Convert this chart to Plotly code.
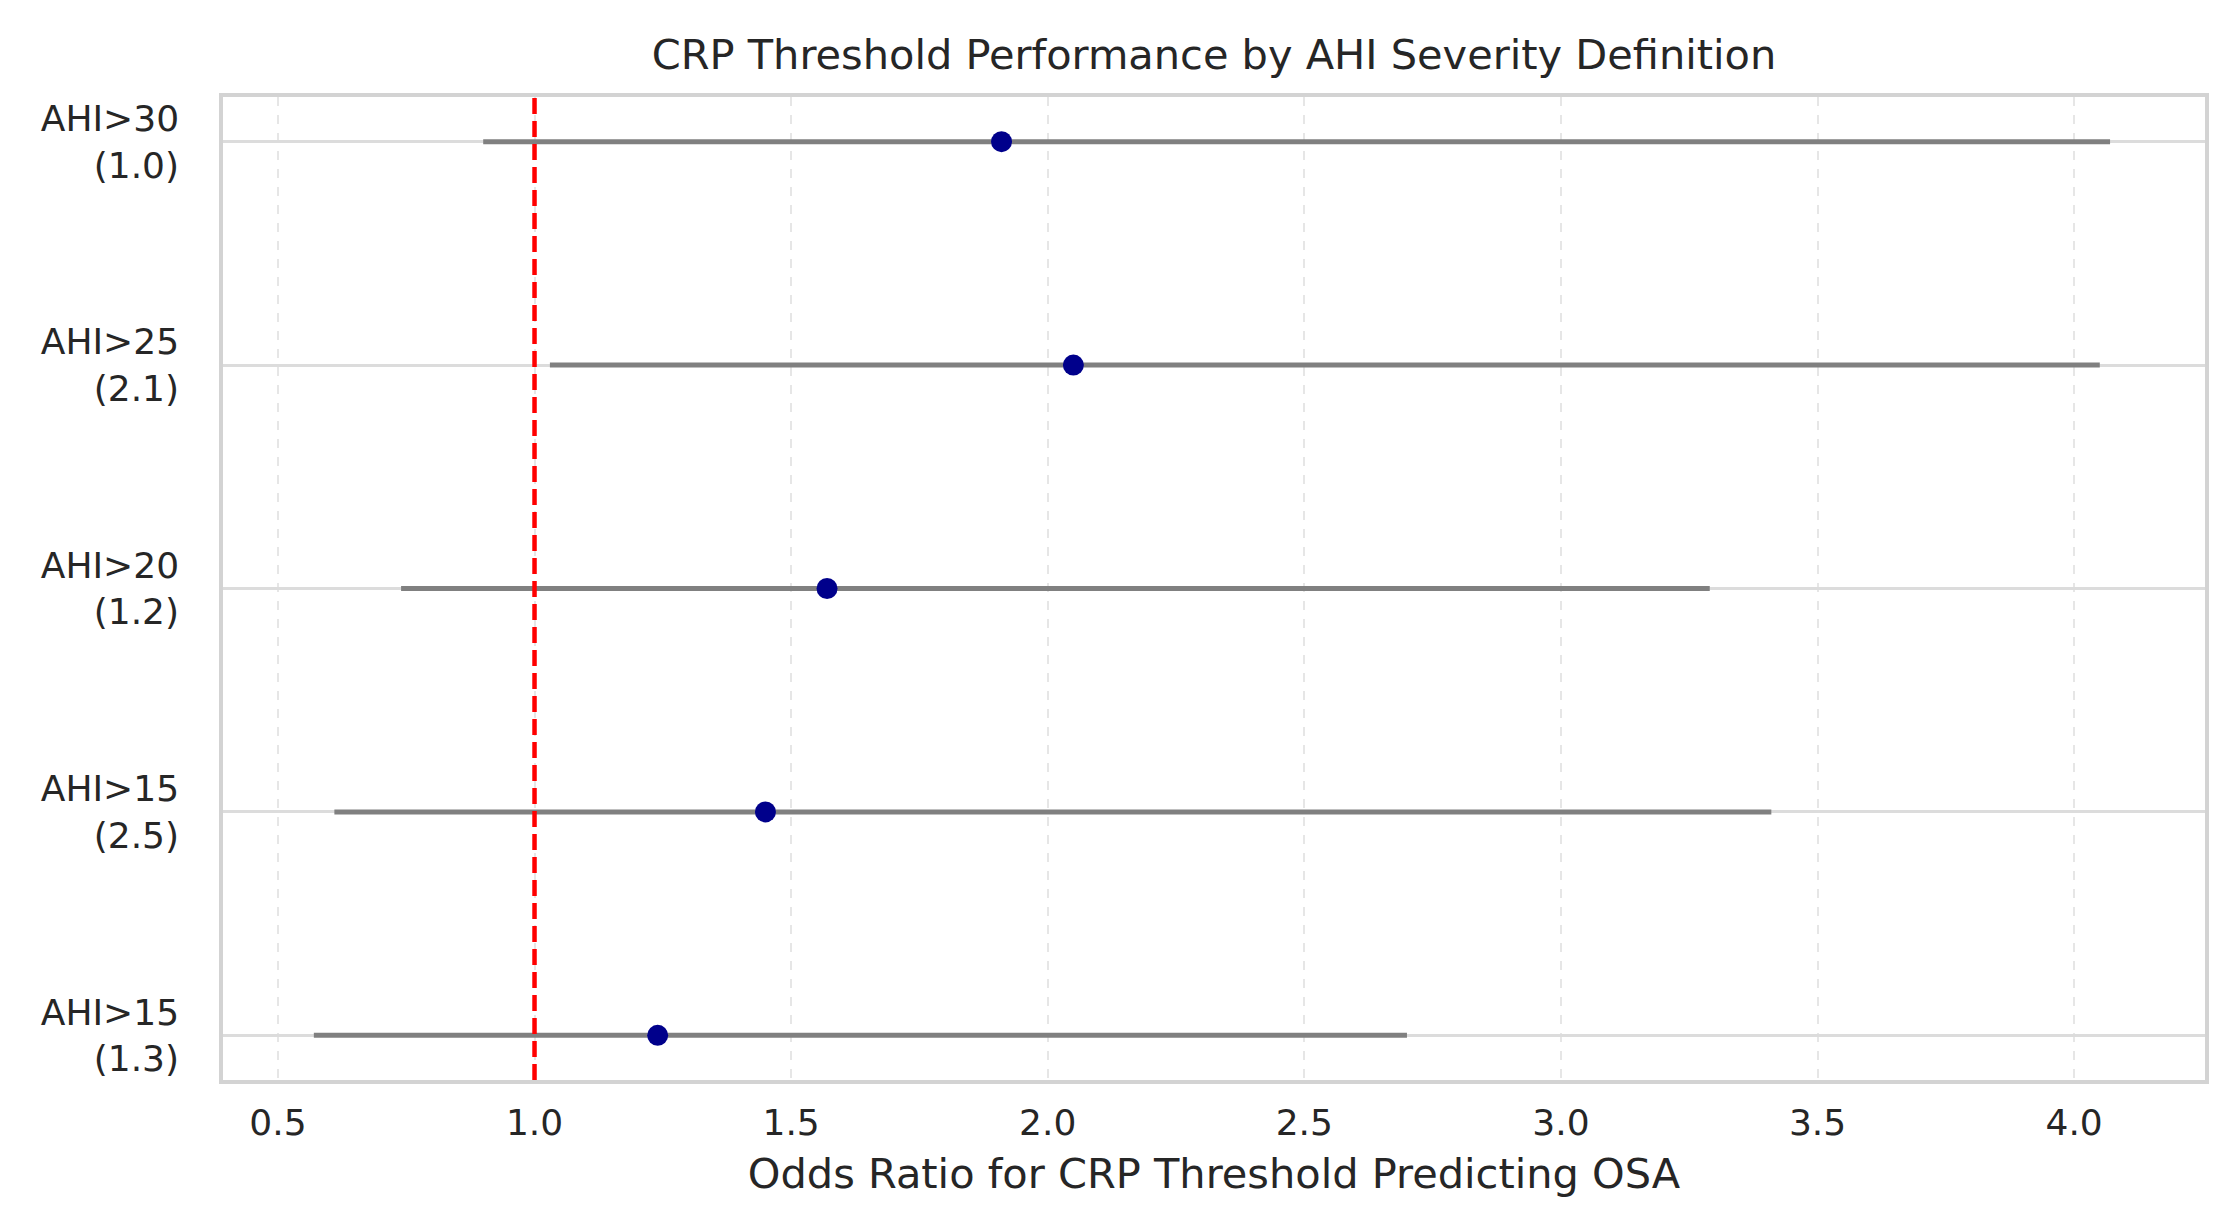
import plotly.graph_objects as go

labels = ["AHI>30<br>(1.0)", "AHI>25<br>(2.1)", "AHI>20<br>(1.2)", "AHI>15<br>(2.5)", "AHI>15<br>(1.3)"]
odds_ratio = [1.91, 2.05, 1.57, 1.45, 1.24]
ci_low = [0.90, 1.03, 0.74, 0.61, 0.57]
ci_high = [4.07, 4.05, 3.29, 3.41, 2.70]
x_ticks = [0.5, 1.0, 1.5, 2.0, 2.5, 3.0, 3.5, 4.0]
ref_value = 1.0

ypos = list(range(len(labels)))
err_plus = [h - o for h, o in zip(ci_high, odds_ratio)]
err_minus = [o - l for o, l in zip(odds_ratio, ci_low)]

FONT = "DejaVu Sans"
TXT = "#262626"

fig = go.Figure()
fig.add_trace(go.Scatter(
    x=odds_ratio, y=ypos, mode="markers",
    marker=dict(color="#00008b", size=21),
    error_x=dict(type="data", symmetric=False, array=err_plus, arrayminus=err_minus,
                 color="#808080", thickness=5, width=0),
    showlegend=False,
))
fig.add_vline(x=ref_value, line=dict(color="#ff0000", width=4.5, dash="16px,7px"), layer="above")

fig.update_layout(
    width=2228, height=1216,
    paper_bgcolor="white", plot_bgcolor="white",
    margin=dict(l=215, r=31, t=89, b=144),
    font=dict(family=FONT, color=TXT, size=36),
    title=dict(text="CRP Threshold Performance by AHI Severity Definition",
               x=0.5, xref="paper", xanchor="center", y=1 - 46 / 1216, yanchor="middle",
               font=dict(size=41.5, color=TXT, family=FONT)),
    xaxis=dict(
        range=[0.393, 4.255], tickvals=x_ticks, ticktext=[f"{v:.1f}" for v in x_ticks],
        showgrid=True, gridcolor="#e6e6e6", gridwidth=1.5, griddash="dash",
        zeroline=False, showline=True, mirror=True, linecolor="#d3d3d3", linewidth=3.5,
        ticks="outside", ticklen=8, tickcolor="rgba(0,0,0,0)",
        tickfont=dict(size=36, color=TXT),
        title=dict(text="Odds Ratio for CRP Threshold Predicting OSA", standoff=18,
                   font=dict(size=41.5, color=TXT)),
    ),
    yaxis=dict(
        range=[4.2, -0.2], tickvals=ypos, ticktext=labels,
        showgrid=True, gridcolor="#dcdcdc", gridwidth=3,
        zeroline=False, showline=True, mirror=True, linecolor="#d3d3d3", linewidth=3.5,
        ticks="outside", ticklen=33, tickcolor="rgba(0,0,0,0)",
        tickfont=dict(size=36, color=TXT),
    ),
)

fig.write_html("out.html")
